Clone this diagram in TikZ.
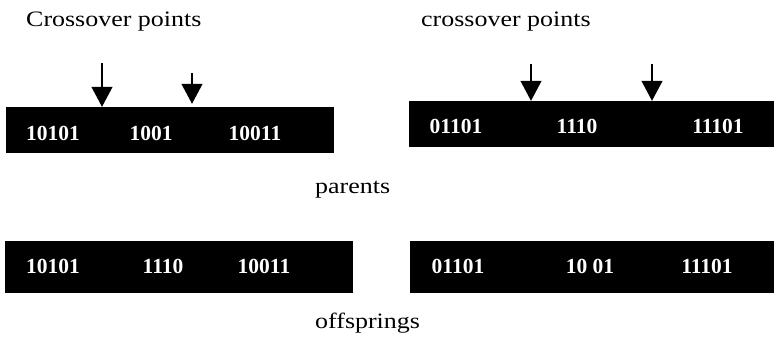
\documentclass[tikz,border=0pt]{standalone}
\usepackage{fontspec}
\setmainfont{Liberation Serif}
\usepackage{tikz}
\usetikzlibrary{arrows.meta}

\newcommand\wide[1]{\scalebox{1.18}[1]{#1}}

\tikzset{
  chrom/.style={draw=none,fill=black,inner sep=0pt},
  gene/.style={text=white,font=\fontsize{21.5}{25}\selectfont\bfseries,anchor=base,inner sep=0pt},
  caption/.style={font=\fontsize{22}{26}\selectfont,anchor=base west,inner sep=0pt},
  cut/.style={line width=1.2pt,-{Triangle[length=20pt,width=21pt]}}
}

\begin{document}
\begin{tikzpicture}[x=1pt,y=-1pt]
  \useasboundingbox (0,0) rectangle (774,340);

  % parents
  \node[chrom,minimum width=328pt,minimum height=46pt] (pa) at (170,130) {};
  \node[chrom,minimum width=365pt,minimum height=46pt] (pb) at (591.5,124) {};
  \node[gene] (pa1) at (53,140) {10101};
  \node[gene] (pa2) at (151,140) {1001};
  \node[gene] (pa3) at (255,140) {10011};
  \node[gene] (pb1) at (456,133) {01101};
  \node[gene] (pb2) at (577,133) {1110};
  \node[gene] (pb3) at (718,133) {11101};

  % crossover points
  \node[caption] (xl) at (26,27) {\wide{Crossover points}};
  \node[caption] (xr) at (421,27) {\wide{crossover points}};
  \coordinate (ca) at (102,63);
  \coordinate (cb) at (192,73);
  \coordinate (cc) at (531,64);
  \coordinate (cd) at (652,64);
  \draw[cut] (ca) -- (ca |- pa.north);
  \draw[cut,shorten >=3pt] (cb) -- (cb |- pa.north);
  \draw[cut] (cc) -- (cc |- pb.north);
  \draw[cut] (cd) -- (cd |- pb.north);

  \node[caption] (par) at (315,193) {\wide{parents}};

  % offsprings
  \node[chrom,minimum width=348pt,minimum height=52pt] (oa) at (179,267) {};
  \node[chrom,minimum width=364pt,minimum height=52pt] (ob) at (592,267) {};
  \node[gene] (oa1) at (53,273) {10101};
  \node[gene] (oa2) at (163,273) {1110};
  \node[gene] (oa3) at (264,273) {10011};
  \node[gene] (ob1) at (458,273) {01101};
  \node[gene] (ob2) at (590,273) {10 01};
  \node[gene] (ob3) at (707,273) {11101};

  \node[caption] (off) at (315,328) {\wide{offsprings}};
\end{tikzpicture}
\end{document}
